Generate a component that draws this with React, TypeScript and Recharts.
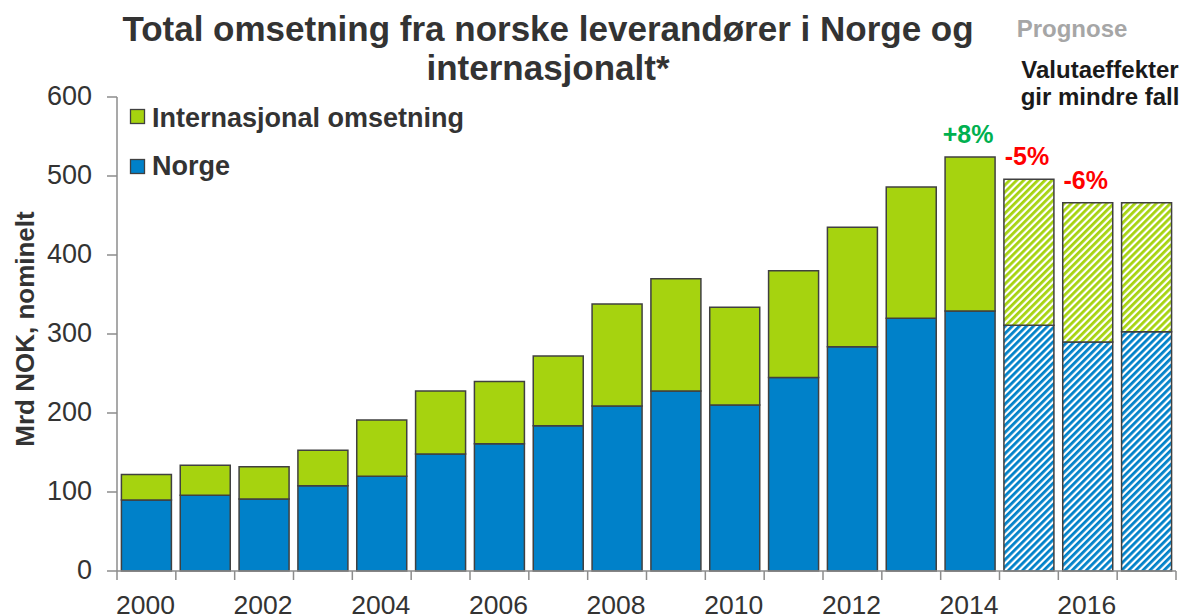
import React from 'react';
import { BarChart, Bar, XAxis, YAxis, Cell, LabelList, Customized } from 'recharts';

const years = ['2000', '2001', '2002', '2003', '2004', '2005', '2006', '2007', '2008', '2009', '2010', '2011', '2012', '2013', '2014', '2015', '2016', '2017'];
const norge = [90, 96, 91, 108, 120, 148, 161, 184, 209, 228, 210, 245, 284, 320, 329, 311, 290, 303];
const internasjonal = [32, 38, 41, 45, 71, 80, 79, 88, 129, 142, 124, 135, 151, 166, 195, 185, 176, 163];
const prognose = [false, false, false, false, false, false, false, false, false, false, false, false, false, false, false, true, true, true];
const changeLabels = ['', '', '', '', '', '', '', '', '', '', '', '', '', '', '+8%', '-5%', '-6%', ''];
const changeColors = ['', '', '', '', '', '', '', '', '', '', '', '', '', '', '#00B050', '#FF0000', '#FF0000', ''];
const yTicks = [0, 100, 200, 300, 400, 500, 600];

const data = years.map((y, i) => ({ year: y, norge: norge[i], intl: internasjonal[i] }));

const W = 1188;
const H = 616;
const LEFT = 117;
const RIGHT = 12;
const PLOT_W = W - LEFT - RIGHT;
const STEP = PLOT_W / years.length;

const BLUE = '#0081C9';
const GREEN = '#A6D30F';
const TEXT = '#333333';
const AXIS = '#8C8C8C';
const FONT = '"Liberation Sans", Arial, sans-serif';

const XTick = (props: any) => {
  const { x, y, payload, index } = props;
  const isLast = index === years.length - 1;
  const even = Number(payload.value) % 2 === 0;
  return (
    <g>
      <line x1={x - STEP / 2} x2={x - STEP / 2} y1={y} y2={y + 9} stroke={AXIS} strokeWidth={1.5} />
      {isLast && <line x1={x + STEP / 2} x2={x + STEP / 2} y1={y} y2={y + 9} stroke={AXIS} strokeWidth={1.5} />}
      {even && (
        <text x={x - 1} y={y + 43} textAnchor="middle" fontSize={26.5} fill={TEXT} fontFamily={FONT}>
          {payload.value}
        </text>
      )}
    </g>
  );
};

const YTick = (props: any) => {
  const { x, y, payload } = props;
  return (
    <text x={x - 15} y={y + 8} textAnchor="end" fontSize={27} fill={TEXT} fontFamily={FONT}>
      {payload.value}
    </text>
  );
};

const ChangeLabel = (props: any) => {
  const { x, y, width, index } = props;
  const txt = changeLabels[index];
  if (!txt) return null;
  return (
    <text x={x + width / 2 - 2} y={y - 14} textAnchor="middle" fontSize={25} fontWeight="bold" fill={changeColors[index]} fontFamily={FONT}>
      {txt}
    </text>
  );
};

const Extras = () => (
  <g fontFamily={FONT}>
    <text x={548} y={41} textAnchor="middle" fontSize={35} fontWeight="bold" fill={TEXT}>
      Total omsetning fra norske leverandører i Norge og
    </text>
    <text x={548} y={80} textAnchor="middle" fontSize={35} fontWeight="bold" fill={TEXT}>
      internasjonalt*
    </text>
    <text x={1072} y={37} textAnchor="middle" fontSize={24} fontWeight="bold" fill="#A6A6A6">
      Prognose
    </text>
    <text x={1100} y={78} textAnchor="middle" fontSize={24} fontWeight="bold" fill="#1A1A1A">
      Valutaeffekter
    </text>
    <text x={1100} y={105} textAnchor="middle" fontSize={24} fontWeight="bold" fill="#1A1A1A">
      gir mindre fall
    </text>
    <text x={34} y={329} textAnchor="middle" fontSize={26} fontWeight="bold" fill={TEXT} transform="rotate(-90 34 329)">
      Mrd NOK, nominelt
    </text>
    {/* legend */}
    <rect x={130.5} y={109.5} width={14} height={14} fill={GREEN} stroke="#404040" strokeWidth={1.3} />
    <text x={152} y={127} fontSize={27} fontWeight="bold" fill={TEXT}>Internasjonal omsetning</text>
    <rect x={130.5} y={159.5} width={14} height={14} fill={BLUE} stroke="#404040" strokeWidth={1.3} />
    <text x={152} y={175} fontSize={27} fontWeight="bold" fill={TEXT}>Norge</text>
  </g>
);

export default function App() {
  return (
    <div style={{ position: 'absolute', left: 0, top: 0, width: W, height: H, background: '#fff' }}>
      <BarChart
        width={W}
        height={H}
        data={data}
        margin={{ top: 97, right: RIGHT, left: 0, bottom: 0 }}
        barCategoryGap="7.5%"
      >
        <defs>
          <pattern id="blueStripe" patternUnits="userSpaceOnUse" width={5} height={5} patternTransform="rotate(45)">
            <rect width={5} height={5} fill="#ffffff" />
            <rect width={2.8} height={5} fill={BLUE} />
          </pattern>
          <pattern id="greenStripe" patternUnits="userSpaceOnUse" width={5} height={5} patternTransform="rotate(45)">
            <rect width={5} height={5} fill="#ffffff" />
            <rect width={2.8} height={5} fill={GREEN} />
          </pattern>
        </defs>
        <XAxis
          dataKey="year"
          interval={0}
          height={45}
          tickSize={0}
          tickMargin={0}
          axisLine={{ stroke: AXIS, strokeWidth: 1.5 }}
          tick={<XTick />}
        />
        <YAxis
          width={LEFT}
          domain={[0, 600]}
          ticks={yTicks}
          interval={0}
          tickSize={10}
          tickMargin={0}
          axisLine={{ stroke: AXIS, strokeWidth: 1.5 }}
          tickLine={{ stroke: AXIS, strokeWidth: 1.5 }}
          tick={<YTick />}
        />
        <Bar dataKey="norge" stackId="a" stroke="#404040" strokeWidth={1.5} isAnimationActive={false}>
          {data.map((d, i) => (
            <Cell key={d.year} fill={prognose[i] ? 'url(#blueStripe)' : BLUE} />
          ))}
        </Bar>
        <Bar dataKey="intl" stackId="a" stroke="#404040" strokeWidth={1.5} isAnimationActive={false}>
          {data.map((d, i) => (
            <Cell key={d.year} fill={prognose[i] ? 'url(#greenStripe)' : GREEN} />
          ))}
          <LabelList dataKey="intl" content={<ChangeLabel />} />
        </Bar>
        <Customized component={<Extras />} />
      </BarChart>
    </div>
  );
}
